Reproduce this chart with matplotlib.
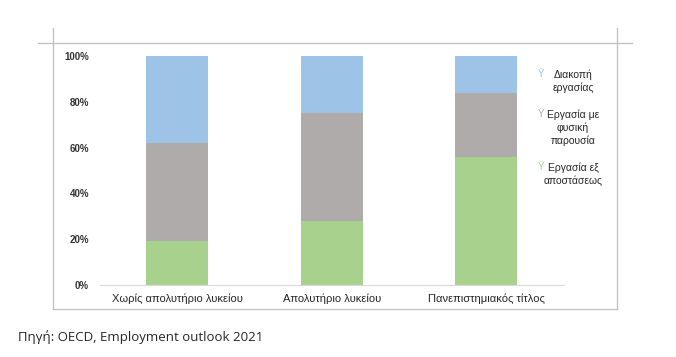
import matplotlib
matplotlib.use("Agg")
import matplotlib.pyplot as plt
from matplotlib.lines import Line2D

plt.rcParams['font.family'] = ['Liberation Sans', 'DejaVu Sans']

categories = ["Χωρίς απολυτήριο λυκείου", "Απολυτήριο λυκείου", "Πανεπιστημιακός τίτλος"]
remote = [0.19, 0.28, 0.56]       # Εργασία εξ αποστάσεως
in_person = [0.43, 0.47, 0.28]    # Εργασία με φυσική παρουσία
stopped = [0.38, 0.25, 0.16]      # Διακοπή εργασίας
yticks = [0, 0.2, 0.4, 0.6, 0.8, 1.0]
ytick_labels = ["0%", "20%", "40%", "60%", "80%", "100%"]
legend_labels = [["Διακοπή", "εργασίας"], ["Εργασία με", "φυσική", "παρουσία"], ["Εργασία εξ", "αποστάσεως"]]
source_text = "Πηγή: OECD, Employment outlook 2021"

c_blue = "#9DC3E6"
c_gray = "#AFABAB"
c_green = "#A9D18E"

W, H = 676, 357
fig = plt.figure(figsize=(W / 100, H / 100), dpi=100)

def fx(px):
    return px / W

def fy(py):
    return 1 - py / H

ax = fig.add_axes([fx(100), fy(285), (563.5 - 100) / W, (285 - 56) / H])
x = list(range(len(categories)))
bw = 0.40
ax.bar(x, remote, bw, color=c_green)
ax.bar(x, in_person, bw, bottom=remote, color=c_gray)
bottom2 = [a + b for a, b in zip(remote, in_person)]
ax.bar(x, stopped, bw, bottom=bottom2, color=c_blue)

ax.set_xlim(-0.5, 2.5)
ax.set_ylim(0, 1)
ax.set_yticks(yticks)
ax.set_yticklabels(ytick_labels, fontsize=7, color="#333333", fontweight="bold")
ax.set_xticks(x)
ax.set_xticklabels(categories, fontsize=8, color="#262626")
for s in ["top", "right", "left"]:
    ax.spines[s].set_visible(False)
ax.spines["bottom"].set_color("#D9D9D9")
ax.spines["bottom"].set_linewidth(0.8)
ax.tick_params(axis="both", length=0)
ax.tick_params(axis="y", pad=8)
ax.tick_params(axis="x", pad=6)

# legend entries (markers + centered text)
leg_colors = [c_blue, c_gray, c_green]
leg_y = [75, 115, 168]
line_step = 13
for labs, col, yy in zip(legend_labels, leg_colors, leg_y):
    fig.text(fx(541), fy(yy - 1), "Ÿ", color=col, fontsize=7, ha="center", va="center")
    for i, lab in enumerate(labs):
        fig.text(fx(573), fy(yy + i * line_step), lab, fontsize=7.5, ha="center", va="center",
                 color="#262626")

# frame lines of the chart area
lc = "#BFBFBF"
def line(x0, y0, x1, y1):
    fig.add_artist(Line2D([fx(x0), fx(x1)], [fy(y0), fy(y1)], color=lc, lw=0.9,
                          transform=fig.transFigure))

line(53, 43, 617, 43)
line(53, 43, 53, 309)
line(617, 43, 617, 309)
line(53, 309, 617, 309)
line(38, 43, 53, 43)
line(53, 28, 53, 43)
line(617, 28, 617, 43)
line(617, 43, 632, 43)

fig.text(fx(18), fy(337), source_text, fontsize=9.5, color="#262626", va="center", ha="left",
         family=["Open Sans", "DejaVu Sans"])

fig.savefig("out.png", dpi=100)
